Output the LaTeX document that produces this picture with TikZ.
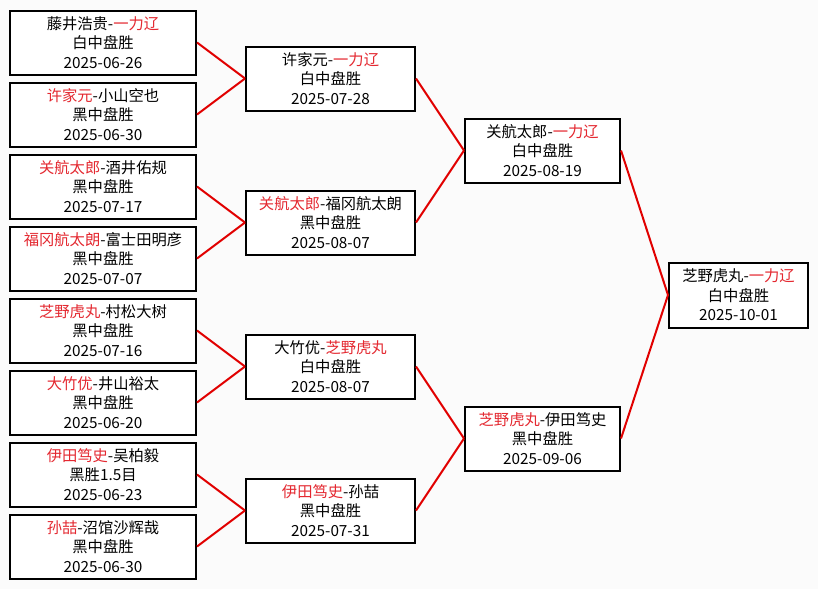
\documentclass[tikz,border=0pt]{standalone}
\usepackage{fontspec}
\setmainfont{Noto Sans CJK SC}
\definecolor{winred}{RGB}{228,40,48}
\definecolor{linered}{RGB}{225,0,0}
\definecolor{bg}{RGB}{251,251,251}
\newcommand{\wn}[1]{\textcolor{winred}{#1}}
\tikzset{
  game/.style={draw=black, line width=2pt, fill=white, inner sep=0pt, align=center,
    font=\fontsize{15.3}{19.5}\selectfont},
  c1/.style={game, minimum width=186pt, minimum height=64pt},
  c2/.style={game, minimum width=169pt, minimum height=64pt},
  c3/.style={game, minimum width=155pt, minimum height=64pt},
  c4/.style={game, minimum width=139pt, minimum height=65pt},
  link/.style={draw=linered, line width=2pt}
}
\begin{document}
\begin{tikzpicture}[x=1pt,y=-1pt]
\fill[bg] (0,0) rectangle (818,589);
\useasboundingbox (0,0) rectangle (818,589);
% column 1
\node[c1] (a1) at (103,42.5) {藤井浩贵-\wn{一力辽}\\白中盘胜\\2025-06-26};
\node[c1] (a2) at (103,114.5) {\wn{许家元}-小山空也\\黑中盘胜\\2025-06-30};
\node[c1] (a3) at (103,186.5) {\wn{关航太郎}-酒井佑规\\黑中盘胜\\2025-07-17};
\node[c1] (a4) at (103,258.5) {\wn{福冈航太朗}-富士田明彦\\黑中盘胜\\2025-07-07};
\node[c1] (a5) at (103,330.5) {\wn{芝野虎丸}-村松大树\\黑中盘胜\\2025-07-16};
\node[c1] (a6) at (103,402.5) {\wn{大竹优}-井山裕太\\黑中盘胜\\2025-06-20};
\node[c1] (a7) at (103,474.5) {\wn{伊田笃史}-吴柏毅\\黑胜1.5目\\2025-06-23};
\node[c1] (a8) at (103,546.5) {\wn{孙喆}-沼馆沙辉哉\\黑中盘胜\\2025-06-30};
% column 2
\node[c2] (b1) at (330.5,78.5) {许家元-\wn{一力辽}\\白中盘胜\\2025-07-28};
\node[c2] (b2) at (330.5,222.5) {\wn{关航太郎}-福冈航太朗\\黑中盘胜\\2025-08-07};
\node[c2] (b3) at (330.5,366.5) {大竹优-\wn{芝野虎丸}\\白中盘胜\\2025-08-07};
\node[c2] (b4) at (330.5,510.5) {\wn{伊田笃史}-孙喆\\黑中盘胜\\2025-07-31};
% column 3
\node[c3] (d1) at (542.5,150.5) {关航太郎-\wn{一力辽}\\白中盘胜\\2025-08-19};
\node[c3] (d2) at (542.5,438.5) {\wn{芝野虎丸}-伊田笃史\\黑中盘胜\\2025-09-06};
% final
\node[c4] (f) at (738.5,295) {芝野虎丸-\wn{一力辽}\\白中盘胜\\2025-10-01};
% links
\draw[link] (a1.east) -- (b1.west);
\draw[link] (a2.east) -- (b1.west);
\draw[link] (a3.east) -- (b2.west);
\draw[link] (a4.east) -- (b2.west);
\draw[link] (a5.east) -- (b3.west);
\draw[link] (a6.east) -- (b3.west);
\draw[link] (a7.east) -- (b4.west);
\draw[link] (a8.east) -- (b4.west);
\draw[link] (b1.east) -- (d1.west);
\draw[link] (b2.east) -- (d1.west);
\draw[link] (b3.east) -- (d2.west);
\draw[link] (b4.east) -- (d2.west);
\draw[link] (d1.east) -- (f.west);
\draw[link] (d2.east) -- (f.west);
\end{tikzpicture}
\end{document}
